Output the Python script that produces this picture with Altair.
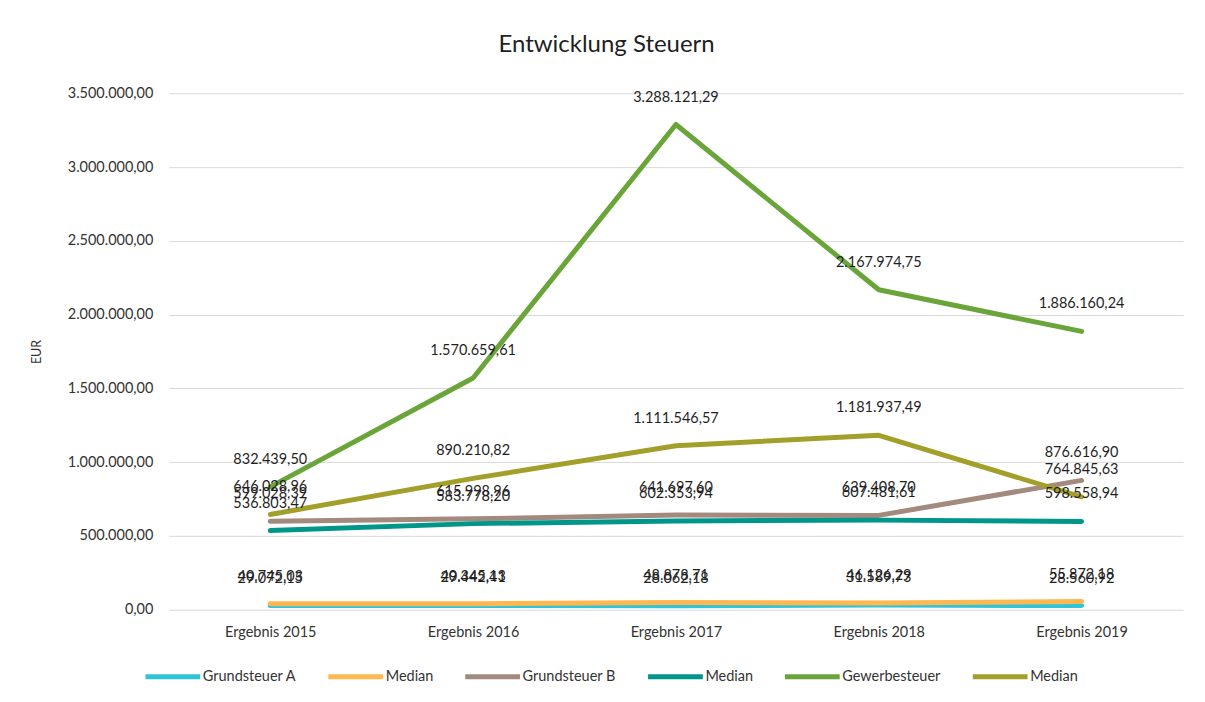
import altair as alt
import pandas as pd

years = ["Ergebnis 2015", "Ergebnis 2016", "Ergebnis 2017", "Ergebnis 2018", "Ergebnis 2019"]
series_keys = ["Grundsteuer A", "Median A", "Grundsteuer B", "Median B", "Gewerbesteuer", "Median G"]
series_colors = ["#2ec5db", "#ffb74f", "#a38a7e", "#00978a", "#6aa539", "#a2a02a"]

grundsteuer_a = [29072.15, 29442.41, 28062.18, 31589.73, 28560.92]
median_a = [40745.03, 40345.13, 48878.71, 46126.29, 55872.18]
grundsteuer_b = [599028.39, 615998.96, 641697.60, 639408.70, 876616.90]
median_b = [536803.47, 583778.20, 602353.94, 607481.61, 598558.94]
gewerbesteuer = [832439.50, 1570659.61, 3288121.29, 2167974.75, 1886160.24]
median_g = [646028.96, 890210.82, 1111546.57, 1181937.49, 764845.63]

all_values = [grundsteuer_a, median_a, grundsteuer_b, median_b, gewerbesteuer, median_g]


def de_fmt(v):
    s = f"{v:,.2f}"
    return s.replace(",", "#").replace(".", ",").replace("#", ".")


rows = []
for si, (key, vals) in enumerate(zip(series_keys, all_values)):
    for yr, v in zip(years, vals):
        rows.append({"Jahr": yr, "Serie": key, "Wert": v, "Label": de_fmt(v), "ord": si})
df = pd.DataFrame(rows)

FONT = "Lato"
FS = 14.5

x_enc = alt.X("Jahr:N", sort=years, title=None,
              scale=alt.Scale(type="point", padding=0.5),
              axis=alt.Axis(labelAngle=0, labelFontSize=FS, labelColor="#333333",
                            labelPadding=16, domain=False, ticks=False, labelFont=FONT))
y_enc = alt.Y("Wert:Q", title="EUR",
              scale=alt.Scale(domain=[0, 3500000], nice=False),
              axis=alt.Axis(values=list(range(0, 3500001, 500000)),
                            labelExpr="replace(replace(replace(format(datum.value, ',.2f'), regexp(',', 'g'), '#'), regexp('[.]', 'g'), ','), regexp('#', 'g'), '.')",
                            labelFontSize=FS, labelColor="#333333", labelPadding=16,
                            titleFontSize=12.5, titleFontWeight="normal", titleColor="#333333",
                            titlePadding=24, domain=False, ticks=False,
                            gridColor="#d9d9d9", gridWidth=1, labelFont=FONT, titleFont=FONT))

color_enc = alt.Color("Serie:N",
                      scale=alt.Scale(domain=series_keys, range=series_colors),
                      legend=alt.Legend(title=None, orient="none", direction="horizontal",
                                        legendX=-26, legendY=554,
                                        symbolType="stroke", symbolStrokeWidth=5,
                                        symbolSize=3000, labelFontSize=FS, labelColor="#333333",
                                        labelFont=FONT, columnPadding=21, labelOffset=0,
                                        gridAlign="none",
                                        labelExpr="indexof(datum.label, 'Median') == 0 ? 'Median' : datum.label"))

lines = alt.Chart(df).mark_line(strokeWidth=5, strokeCap="round", strokeJoin="round").encode(
    x=x_enc, y=y_enc, color=color_enc, detail="Serie:N", order="ord:Q"
)

labels = alt.Chart(df).mark_text(dy=-27, fontSize=FS, color="#1f1f1f", baseline="middle", font=FONT).encode(
    x=alt.X("Jahr:N", sort=years), y="Wert:Q", text="Label:N"
)

chart = alt.layer(lines, labels).properties(
    width=1015, height=517,
    title=alt.TitleParams("Entwicklung Steuern", fontSize=24, font=FONT, fontWeight="normal",
                          color="#1f1f1f", anchor="middle", frame="bounds", offset=28),
    padding={"left": 22, "top": 25, "right": 14, "bottom": 5},
).configure(background="white").configure_view(stroke=None)

chart.save("out.html", embed_options={"renderer": "svg", "actions": False})
